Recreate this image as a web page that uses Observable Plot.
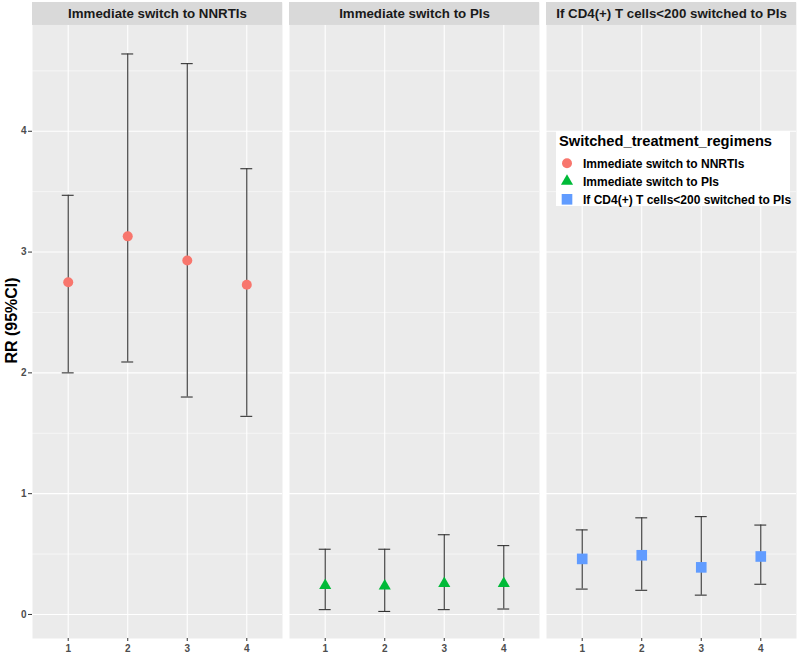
<!DOCTYPE html>
<html><head><meta charset="utf-8">
<script src="https://cdn.jsdelivr.net/npm/d3@7"></script>
<script src="https://cdn.jsdelivr.net/npm/@observablehq/plot@0.6"></script>
<style>
body{margin:0;background:#fff;}
#wrap{position:relative;width:800px;height:656px;font-family:"Liberation Sans",Arial,sans-serif;}
#wrap svg{font-family:"Liberation Sans",Arial,sans-serif;}
#legend{position:absolute;left:0;top:0;pointer-events:none;}
</style>
</head><body><div id="wrap"></div>
<script>
// ---- data ----
const facets = ["Immediate switch to NNRTIs", "Immediate switch to PIs", "If CD4(+) T cells<200 switched to PIs"];
const groups = [1, 2, 3, 4];
const colors = ["#F8766D", "#00BA38", "#619CFF"];
const symbols = ["circle", "triangle", "square"];
const rrNNRTI = [2.75, 3.13, 2.93, 2.73];
const lowNNRTI = [2.00, 2.09, 1.80, 1.64];
const highNNRTI = [3.47, 4.64, 4.56, 3.69];
const rrPI = [0.24, 0.235, 0.257, 0.257];
const lowPI = [0.04, 0.025, 0.04, 0.045];
const highPI = [0.54, 0.54, 0.66, 0.57];
const rrCD4 = [0.46, 0.49, 0.39, 0.48];
const lowCD4 = [0.21, 0.20, 0.16, 0.25];
const highCD4 = [0.70, 0.80, 0.81, 0.74];
const yTicks = [0, 1, 2, 3, 4];
const yMinor = [0.5, 1.5, 2.5, 3.5, 4.5];
const yLabel = "RR (95%CI)";
const legendTitle = "Switched_treatment_regimens";

// ---- build table ----
const series = [[rrNNRTI, lowNNRTI, highNNRTI], [rrPI, lowPI, highPI], [rrCD4, lowCD4, highCD4]];
const rows = facets.flatMap((f, i) => groups.map((g, j) => ({
  facet: f, group: g, rr: series[i][0][j], low: series[i][1][j], high: series[i][2][j]
})));

const yMin = -0.199, yTop = 4.876, yStrip = 5.066;
const xLo = 0.4, xHi = 4.6;
const symR = [5, 4.5, 6];
const font = '"Liberation Sans", Arial, sans-serif';

const dots = facets.map((f, i) => Plot.dot(rows.filter(d => d.facet === f), {
  fx: "facet", x: "group", y: "rr", r: symR[i], symbol: () => symbols[i], fill: colors[i], stroke: "none"
}));

const chart = Plot.plot({
  width: 800, height: 656,
  marginLeft: 31, marginRight: 2, marginTop: 2, marginBottom: 18,
  style: {fontFamily: font, background: "transparent"},
  fx: {domain: facets, paddingInner: 0.027, paddingOuter: 0, axis: null},
  x: {domain: [xLo, xHi]},
  y: {domain: [yMin, yStrip]},
  symbol: {type: "identity"},
  marks: [
    Plot.frame({fill: "#EBEBEB", stroke: "none"}),
    Plot.ruleY(yMinor, {stroke: "#fff", strokeWidth: 0.55}),
    Plot.ruleY(yTicks, {stroke: "#fff", strokeWidth: 1.1}),
    Plot.ruleX(groups, {x: d => d, y1: () => yMin, y2: () => yTop, stroke: "#fff", strokeWidth: 1.1}),
    Plot.rect(facets, {fx: d => d, x1: () => xLo, x2: () => xHi, y1: () => yTop, y2: () => yStrip, fill: "#D9D9D9"}),
    Plot.text(facets, {fx: d => d, x: () => (xLo + xHi) / 2, y: () => (yTop + yStrip) / 2, text: d => d,
      fontWeight: "bold", fontSize: 13.3, fill: "#1A1A1A"}),
    Plot.ruleX(rows, {fx: "facet", x: "group", y1: "low", y2: "high", stroke: "#333", strokeWidth: 1.1}),
    Plot.ruleY(rows, {fx: "facet", y: "low", x1: d => d.group - 0.1, x2: d => d.group + 0.1, stroke: "#333", strokeWidth: 1.1}),
    Plot.ruleY(rows, {fx: "facet", y: "high", x1: d => d.group - 0.1, x2: d => d.group + 0.1, stroke: "#333", strokeWidth: 1.1}),
    ...dots,
    Plot.axisY({ticks: yTicks, tickSize: 4, tickPadding: 2, tickFormat: d => String(d),
      label: yLabel, labelAnchor: "center", labelOffset: 27, labelArrow: "none", stroke: "#333"}),
    Plot.axisX({ticks: groups, tickSize: 3, tickPadding: 3, tickFormat: d => String(d), label: null, stroke: "#333"})
  ]
});
document.getElementById("wrap").appendChild(chart);

// style axis texts like ggplot
const s = d3.select(chart);
s.selectAll('[aria-label="y-axis tick label"] text, [aria-label="x-axis tick label"] text')
  .attr("fill", "#4D4D4D").attr("font-weight", "bold").attr("font-size", 10);
s.selectAll('[aria-label="y-axis tick label"], [aria-label="x-axis tick label"]')
  .attr("fill", "#4D4D4D").attr("font-weight", "bold").attr("font-size", 10);
s.selectAll('[aria-label="y-axis label"]').attr("font-weight", "bold").attr("font-size", 16).attr("fill", "#000");
s.selectAll('[aria-label="y-axis label"] text').attr("font-weight", "bold").attr("font-size", 16).attr("fill", "#000").text(yLabel);

// legend overlay
const lg = d3.select("#wrap").append("svg").attr("id", "legend").attr("width", 800).attr("height", 656)
  .style("font-family", font);
lg.append("rect").attr("x", 556).attr("y", 131).attr("width", 234).attr("height", 75).attr("fill", "#fff");
lg.append("text").attr("x", 559).attr("y", 146).attr("font-size", 14.7).attr("font-weight", "bold")
  .attr("fill", "#000").text(legendTitle);
const symMap = {circle: d3.symbolCircle, triangle: d3.symbolTriangle, square: d3.symbolSquare};
facets.forEach((f, i) => {
  const cy = 163.3 + i * 18;
  lg.append("path").attr("transform", `translate(567,${cy})`)
    .attr("d", d3.symbol(symMap[symbols[i]], Math.PI * symR[i] * symR[i])())
    .attr("fill", colors[i]);
  lg.append("text").attr("x", 583).attr("y", cy + 4.3).attr("font-size", 12).attr("font-weight", "bold")
    .attr("fill", "#000").text(f);
});
</script>
</body></html>
